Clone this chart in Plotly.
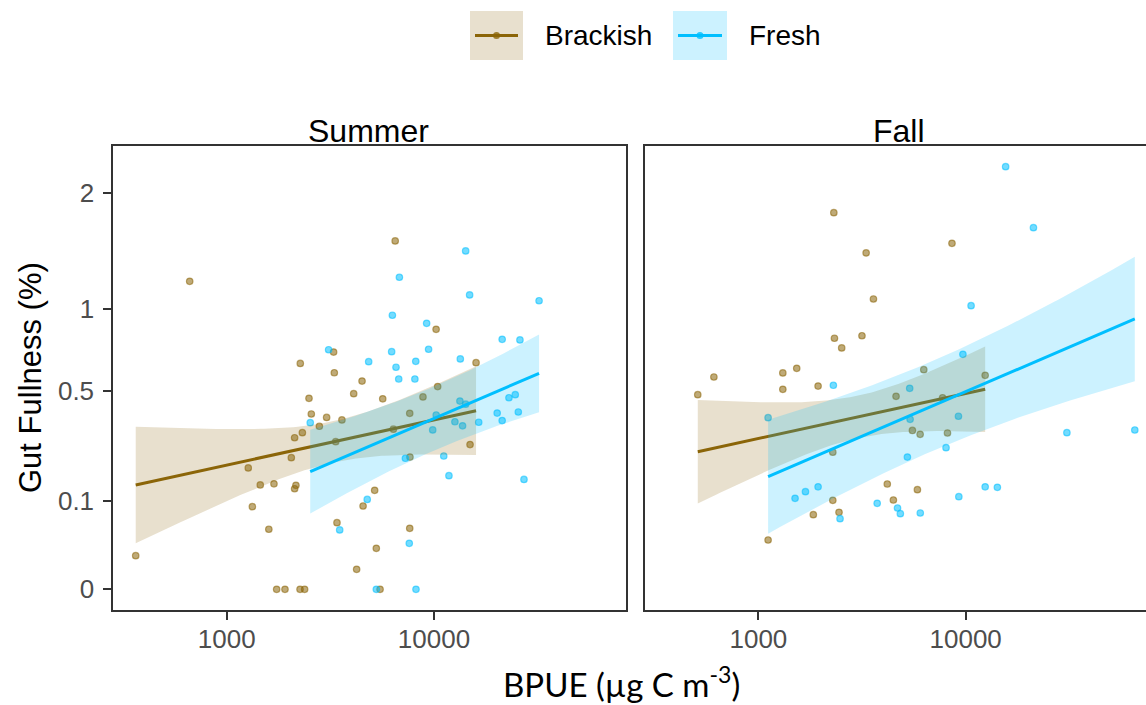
import numpy as np
import plotly.graph_objects as go

W, H = 1146, 705

# ---------------- data (BPUE in ug C m-3, gut fullness in %) ----------------
summer_brackish_bpue = [364, 663, 1271, 1330, 1452, 1597, 1691, 1742, 1911, 2050,
                        2127, 2127, 2158, 2259, 2377, 2265, 2318, 2495, 2560, 2800,
                        3035, 3280, 3305, 3357, 3405, 3597, 4100, 4236, 4498, 4550,
                        5175, 5270, 5495, 5660, 6370, 6500, 7640, 7640, 7660, 8850,
                        10240, 10420, 14930, 15960]
summer_brackish_gut = [0.0144, 1.21, 0.188, 0.087, 0.139, 0.046, 0.142, 0, 0, 0.221,
                       0.293, 0.129, 0.138, 0, 0, 0.651, 0.313, 0.465, 0.392, 0.339,
                       0.377, 0.718, 0.598, 0.278, 0.0566, 0.366, 0.488, 0.0051, 0.553, 0.0885,
                       0.125, 0.0214, 0, 0.463, 0.327, 1.548, 0.395, 0.0475, 0.223, 0.472,
                       0.862, 0.524, 0.267, 0.655]

summer_fresh_bpue = [2530, 3103, 3509, 4765, 4842, 5270, 6250, 6300, 6560, 6760,
                     6810, 7280, 7600, 8090, 8170, 8190, 9220, 9420, 9860, 10250,
                     11150, 11810, 12620, 13340, 13400, 13740, 14220, 14220, 14860, 16440,
                     20180, 21330, 21330, 23000, 24670, 25520, 25990, 27180, 32140]
summer_fresh_gut = [0.354, 0.732, 0.0449, 0.103, 0.661, 0, 0.72, 0.958, 0.629, 0.564,
                    1.242, 0.219, 0.027, 0.564, 0.663, 0, 0.9025, 0.735, 0.324, 0.3875,
                    0.2266, 0.1646, 0.358, 0.452, 0.677, 0.341, 0.437, 1.46, 1.105, 0.356,
                    0.396, 0.797, 0.363, 0.468, 0.483, 0.401, 0.793, 0.154, 1.062]

fall_brackish_bpue = [510, 610, 1114, 1312, 1312, 1531, 1841, 1941, 2286, 2286,
                      2312, 2328, 2449, 2523, 3160, 3310, 3590, 4187, 4480, 4615,
                      5535, 5850, 6030, 6280, 7740, 8170, 8590, 12420]
fall_brackish_gut = [0.483, 0.575, 0.031, 0.597, 0.51, 0.623, 0.071, 0.527, 0.24, 0.101,
                     1.809, 0.804, 0.0756, 0.743, 0.82, 1.443, 1.075, 0.1414, 0.1017, 0.475,
                     0.322, 0.1266, 0.3065, 0.615, 0.468, 0.3117, 1.527, 0.584]

fall_fresh_bpue = [1114, 1503, 1687, 1941, 2300, 2477, 3742, 4690, 4840, 5235,
                   5370, 5395, 6040, 8040, 9230, 9270, 9700, 10620, 12420, 14220,
                   15590, 21230, 30790, 65460]
fall_fresh_gut = [0.3757, 0.1056, 0.1215, 0.134, 0.531, 0.0636, 0.0943, 0.0843, 0.0729, 0.223,
                  0.515, 0.3686, 0.0743, 0.256, 0.382, 0.1094, 0.704, 1.026, 0.134, 0.1327,
                  2.278, 1.668, 0.3128, 0.3237]

# fitted trend (linear fit on log10(BPUE) vs sqrt(gut)):
# fitted gut fullness at the start / end of each line, and 95% band
# (lower, upper) at start, middle and end BPUE
fit_bpue = {  # start, middle, end
    ("Summer", "Brackish"): [364, 5916, 15960],
    ("Summer", "Fresh"): [2530, 10471, 32140],
    ("Fall", "Brackish"): [510, 4656, 12420],
    ("Fall", "Fresh"): [1114, 6310, 65460],
}
fit_gut = {  # fitted value at start, end
    ("Summer", "Brackish"): [0.1388, 0.407],
    ("Summer", "Fresh"): [0.1764, 0.595],
    ("Fall", "Brackish"): [0.2415, 0.5102],
    ("Fall", "Fresh"): [0.1617, 0.932],
}
band_lower = {
    ("Summer", "Brackish"): [0.0270, 0.2284, 0.2266],
    ("Summer", "Fresh"): [0.0749, 0.2519, 0.4023],
    ("Fall", "Brackish"): [0.0922, 0.3137, 0.3144],
    ("Fall", "Fresh"): [0.0423, 0.2322, 0.5497],
}
band_upper = {
    ("Summer", "Brackish"): [0.3372, 0.4341, 0.6287],
    ("Summer", "Fresh"): [0.3278, 0.5336, 0.8314],
    ("Fall", "Brackish"): [0.4537, 0.5351, 0.7507],
    ("Fall", "Fresh"): [0.3756, 0.6453, 1.406],
}

seasons = ["Summer", "Fall"]
groups = ["Brackish", "Fresh"]

y_ticks = [0, 0.1, 0.5, 1, 2]
y_tick_labels = ["0", "0.1", "0.5", "1", "2"]
x_ticks = [1000, 10000]
x_tick_labels = ["1000", "10000"]

# ---------------- styles ----------------
LINE_COL = {"Brackish": "#8B6508", "Fresh": "#00BFFF"}
PT_COL = {"Brackish": "rgba(139,101,8,0.55)", "Fresh": "rgba(0,191,255,0.55)"}
FILL_COL = {"Brackish": "rgba(139,101,8,0.2)", "Fresh": "rgba(0,191,255,0.2)"}
KEY_FILL = {"Brackish": "rgb(232,224,206)", "Fresh": "rgb(204,242,255)"}
GG_FONT = "Liberation Sans, Arial, sans-serif"
TICK_COL = "#4D4D4D"
FRAME_COL = "#333333"


def band(key, n=120):
    X3 = np.log10(np.asarray(fit_bpue[key], float))
    up = np.sqrt(np.asarray(band_upper[key], float))
    lo = np.sqrt(np.asarray(band_lower[key], float))
    half2 = ((up - lo) / 2.0) ** 2
    coef = np.polyfit(X3, half2, 2)  # CI half-width^2 is quadratic in x for a linear fit
    g = np.linspace(X3[0], X3[-1], n)
    f0, f1 = np.sqrt(fit_gut[key])
    fit = f0 + (f1 - f0) * (g - X3[0]) / (X3[-1] - X3[0])
    h = np.sqrt(np.clip(np.polyval(coef, g), 0, None))
    return 10 ** g, fit, fit - h, fit + h


data = {
    ("Summer", "Brackish"): (summer_brackish_bpue, summer_brackish_gut),
    ("Summer", "Fresh"): (summer_fresh_bpue, summer_fresh_gut),
    ("Fall", "Brackish"): (fall_brackish_bpue, fall_brackish_gut),
    ("Fall", "Fresh"): (fall_fresh_bpue, fall_fresh_gut),
}

fig = go.Figure()
for si, season in enumerate(seasons):
    xa = "x" if si == 0 else "x2"
    ya = "y" if si == 0 else "y2"
    for grp in groups:
        bx, gy = data[(season, grp)]
        fig.add_trace(go.Scatter(
            x=bx, y=np.sqrt(gy), mode="markers", xaxis=xa, yaxis=ya,
            marker=dict(size=6.5, color=PT_COL[grp], line=dict(color=PT_COL[grp], width=1.2)),
            showlegend=False, hoverinfo="skip"))
    for grp in groups:
        gx, fit, lo, hi = band((season, grp))
        fig.add_trace(go.Scatter(
            x=np.concatenate([gx, gx[::-1]]), y=np.concatenate([hi, lo[::-1]]),
            mode="lines", fill="toself", fillcolor=FILL_COL[grp], line=dict(width=0),
            xaxis=xa, yaxis=ya, showlegend=False, hoverinfo="skip"))
        fig.add_trace(go.Scatter(
            x=gx, y=fit, mode="lines", line=dict(color=LINE_COL[grp], width=3),
            xaxis=xa, yaxis=ya, showlegend=False, hoverinfo="skip"))


def px(xp):
    return xp / W


def py(yp):
    return 1 - yp / H


ydom = [py(610), py(146)]
yrange = [(589.3 - 610) / 280.0, (589.3 - 146) / 280.0]

common_x = dict(type="log", tickvals=x_ticks, ticktext=x_tick_labels, ticks="outside",
                ticklen=8, tickwidth=2, tickcolor=FRAME_COL, showline=True,
                linecolor=FRAME_COL, linewidth=2, showgrid=False, zeroline=False,
                tickfont=dict(family=GG_FONT, size=26, color=TICK_COL),
                ticklabelstandoff=-3, automargin=False)
common_y = dict(range=yrange, domain=ydom, showline=True, linecolor=FRAME_COL, linewidth=2,
                showgrid=False, zeroline=False, automargin=False)

fig.update_layout(
    width=W, height=H, margin=dict(l=0, r=0, t=0, b=0),
    paper_bgcolor="white", plot_bgcolor="white", showlegend=False,
    xaxis=dict(domain=[px(113.3), px(625.7)], range=[2.453, 4.925], anchor="y",
               mirror=True, **common_x),
    xaxis2=dict(domain=[px(645), 1.0], range=[2.453, 4.870], anchor="y2",
                mirror=True, **common_x),
    yaxis=dict(anchor="x", mirror=True, tickvals=list(np.sqrt(y_ticks)), ticktext=y_tick_labels,
               ticks="outside", ticklen=8, tickwidth=2, tickcolor=FRAME_COL,
               tickfont=dict(family=GG_FONT, size=26, color=TICK_COL), ticklabelstandoff=4,
               **common_y),
    yaxis2=dict(anchor="x2", mirror=False, showticklabels=False, ticks="", **common_y),
)


def note(text, x, y, size, family=GG_FONT, xanchor="center", angle=0):
    return dict(text=text, x=px(x), y=py(y), xref="paper", yref="paper",
                xanchor=xanchor, yanchor="middle", textangle=angle, showarrow=False,
                font=dict(family=family, size=size, color="black"))


ann = [
    note("Summer", 368, 131, 32),
    note("Fall", 899, 131, 32),
    note("Gut Fullness (%)", 30, 378, 31, angle=-90),
    note("BPUE (\u00b5g C m<sup>-3</sup>)", 621, 682, 33, family="Lato, Open Sans, sans-serif"),
]

shapes = []
key_pos = {"Brackish": (470, 523, 543), "Fresh": (673, 727, 747)}
for grp in groups:
    x0, x1, tx = key_pos[grp]
    shapes.append(dict(type="rect", xref="paper", yref="paper", x0=px(x0), x1=px(x1),
                       y0=py(60), y1=py(11), fillcolor=KEY_FILL[grp], line=dict(width=0)))
    shapes.append(dict(type="line", xref="paper", yref="paper", x0=px(x0 + 5), x1=px(x1 - 5),
                       y0=py(35.5), y1=py(35.5), line=dict(color=LINE_COL[grp], width=3)))
    cx = (x0 + x1) / 2
    shapes.append(dict(type="circle", xref="paper", yref="paper", x0=px(cx - 3.5), x1=px(cx + 3.5),
                       y0=py(39), y1=py(32), fillcolor=LINE_COL[grp], line=dict(width=0),
                       opacity=0.8))
    ann.append(note(grp, tx, 36, 28, xanchor="left"))

fig.update_layout(annotations=ann, shapes=shapes)
fig.write_html("out.html")
